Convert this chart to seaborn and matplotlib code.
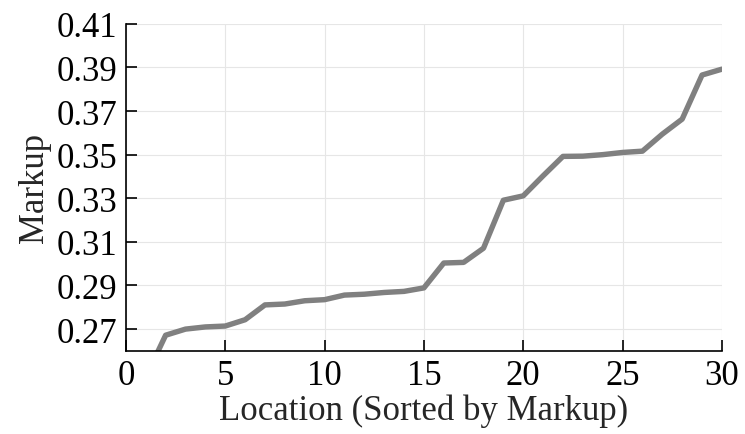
import numpy as np
import matplotlib.pyplot as plt
import seaborn as sns
import pandas as pd

location = np.arange(1, 31)
markup = [0.248, 0.2672, 0.2700, 0.2710, 0.2714, 0.2743, 0.2811, 0.2815, 0.2830, 0.2835,
          0.2856, 0.2860, 0.2868, 0.2873, 0.2889, 0.3003, 0.3006, 0.3071, 0.3291, 0.3311,
          0.3403, 0.3492, 0.3493, 0.3500, 0.3510, 0.3516, 0.3594, 0.3663, 0.3865, 0.3892]
y_ticks = [0.27, 0.29, 0.31, 0.33, 0.35, 0.37, 0.39, 0.41]
x_ticks = [0, 5, 10, 15, 20, 25, 30]

data = pd.DataFrame({'Location': location, 'Markup': markup})

sns.set_theme(style="white")
plt.rcParams['font.family'] = ['Liberation Serif', 'DejaVu Serif']

fig = plt.figure(figsize=(7.45, 4.35), dpi=100)
ax = fig.add_axes([0.169, 0.191, 0.800, 0.752])

sns.lineplot(x='Location', y='Markup', data=data, color='#808080', linewidth=3.9, ax=ax)

ax.set_xlim(0, 30)
ax.set_ylim(0.26, 0.41)
ax.set_xticks(x_ticks)
ax.set_yticks(y_ticks)
ax.set_yticklabels([f'{v:.2f}' for v in y_ticks])
ax.grid(True, color='#e6e6e6', linewidth=0.8)
ax.tick_params(bottom=True, left=True, direction='in', length=8, width=1.2,
               labelsize=25, colors='black', pad=6)
for side in ['top', 'right']:
    ax.spines[side].set_visible(False)
for side in ['left', 'bottom']:
    ax.spines[side].set_color('black')
    ax.spines[side].set_linewidth(1.2)

ax.set_xlabel('Location (Sorted by Markup)', fontsize=25, labelpad=1)
ax.set_ylabel('Markup', fontsize=25, labelpad=4)

fig.savefig('out.png', dpi=100)
